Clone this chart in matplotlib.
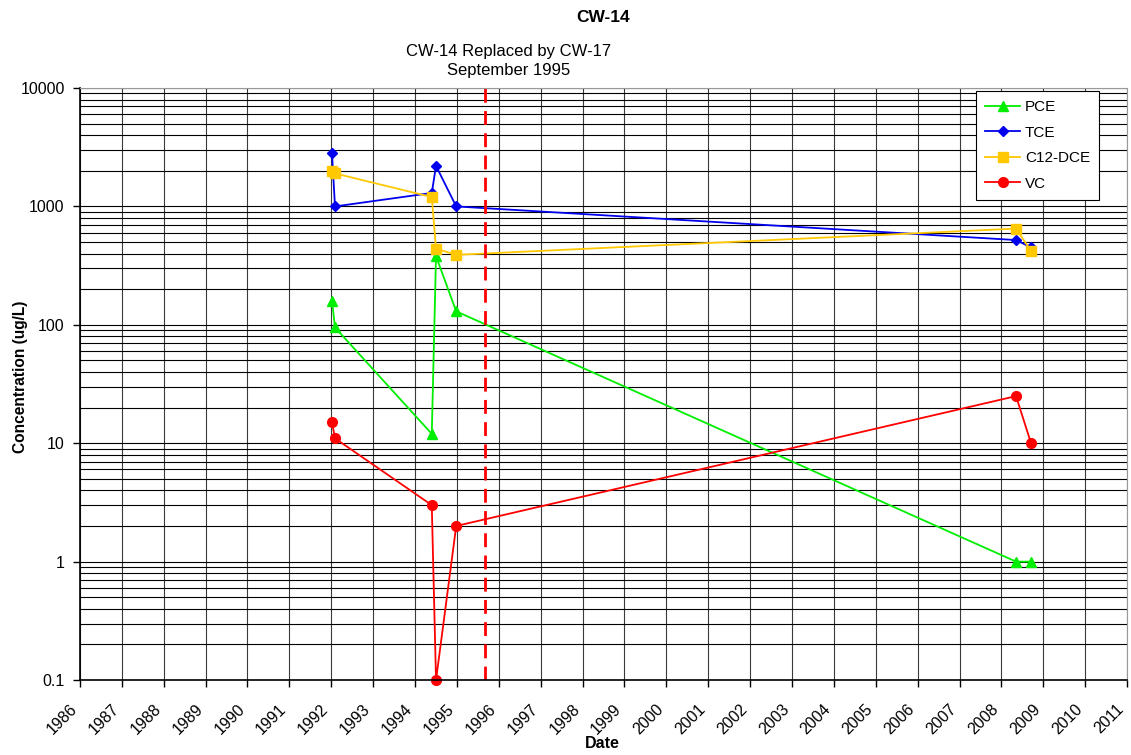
import datetime as dt
import matplotlib
matplotlib.use('Agg')
import matplotlib.pyplot as plt
import matplotlib.dates as mdates
import matplotlib.transforms as mtransforms
from matplotlib.ticker import LogLocator, NullFormatter, FixedLocator

plt.rcParams['font.family'] = ['Liberation Sans', 'DejaVu Sans']

# sample dates for well CW-14
dates = ['1992-01-08', '1992-02-03', '1994-05-27', '1994-07-03',
         '1994-12-26', '2008-05-08', '2008-09-16']
pce = [160, 95, 12, 380, 130, 1, 1]
tce = [2800, 1000, 1300, 2200, 1000, 520, 450]
dce = [2000, 1900, 1200, 440, 390, 650, 420]
vc = [15, 11, 3, 0.1, 2, 25, 10]

replaced_on = '1995-09-01'
years = list(range(1986, 2012))

t = [dt.datetime.strptime(d, '%Y-%m-%d') for d in dates]

fig = plt.figure(figsize=(11.31, 7.55), dpi=100)
ax = fig.add_axes([0.0707, 0.0993, 0.9258, 0.7841])

ax.set_yscale('log')
ax.set_ylim(0.1, 10000)
ax.set_xlim(dt.datetime(1986, 1, 1), dt.datetime(2011, 1, 1))

# grid: every year vertically, every log step horizontally
ax.yaxis.set_minor_locator(LogLocator(base=10, subs=range(2, 10)))
ax.yaxis.set_minor_formatter(NullFormatter())
ax.set_yticks([0.1, 1, 10, 100, 1000, 10000])
ax.set_yticklabels(['0.1', '1', '10', '100', '1000', '10000'])
ax.xaxis.set_major_locator(FixedLocator(
    [mdates.date2num(dt.datetime(y, 1, 1)) for y in years]))
ax.set_xticklabels([str(y) for y in years], rotation=45, ha='right',
                   va='top', fontsize=11.5)
shift = mtransforms.ScaledTranslation(-9 / 100, 0, fig.dpi_scale_trans)
for lbl in ax.get_xticklabels():
    lbl.set_transform(lbl.get_transform() + shift)
ax.tick_params(axis='y', which='major', labelsize=11.5, length=5, width=1,
               pad=6)
ax.tick_params(axis='y', which='minor', length=0)
ax.tick_params(axis='x', length=5, width=1, pad=10.5)

ax.grid(True, axis='y', which='both', color='black', lw=0.8)
ax.grid(True, axis='x', which='major', color='#3a3a3a', lw=0.8)
ax.set_axisbelow(True)

for side in ['top', 'right']:
    ax.spines[side].set_color('#999999')
for side in ['left', 'bottom']:
    ax.spines[side].set_linewidth(1.2)

ax.plot(t, pce, color='#00ee00', marker='^', ms=7, lw=1.3, label='PCE')
ax.plot(t, tce, color='#0000ee', marker='D', ms=5.5, lw=1.3, label='TCE')
ax.plot(t, dce, color='#ffc800', marker='s', ms=7, lw=1.3, label='C12-DCE')
ax.plot(t, vc, color='#ff0000', marker='o', ms=7, lw=1.3, label='VC',
        clip_on=False)

ax.axvline(dt.datetime.strptime(replaced_on, '%Y-%m-%d'), color='red',
           lw=2, ls=(0, (5, 3)))

fig.text(509 / 1131, 1 - 61 / 755, 'CW-14 Replaced by CW-17\nSeptember 1995',
         ha='center', va='center', fontsize=12, linespacing=1.3)
fig.text(603 / 1131, 1 - 17 / 755, 'CW-14', ha='center', va='center',
         fontsize=12.5, fontweight='bold')
fig.text(602 / 1131, 1 - 743 / 755, 'Date', ha='center', va='center',
         fontsize=11.5, fontweight='bold')
fig.text(21 / 1131, 1 - 377 / 755, 'Concentration (ug/L)', ha='center',
         va='center', rotation=90, fontsize=11.2, fontweight='bold')

leg = ax.legend(loc='upper right', bbox_to_anchor=(0.9733, 0.9949),
                fontsize=11, fancybox=False, framealpha=1,
                edgecolor='black', borderpad=0.6, labelspacing=0.75,
                handlelength=2.3, handletextpad=0.3, borderaxespad=0)
leg.get_frame().set_linewidth(0.8)

fig.savefig('out.png', dpi=100)
